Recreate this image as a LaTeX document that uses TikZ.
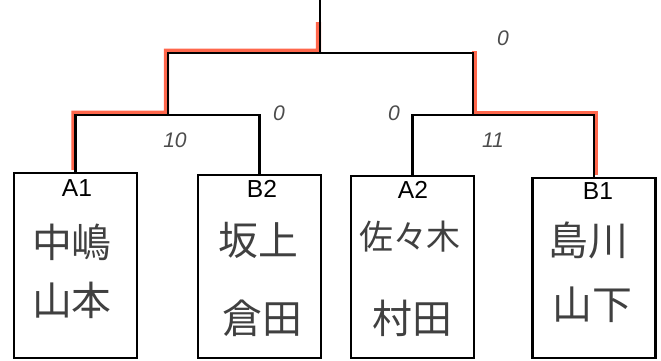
\documentclass[tikz,border=0pt]{standalone}
\usepackage{fontspec}
\setmainfont{Liberation Sans}
\newfontfamily\jpfont{Noto Sans CJK JP}
\usetikzlibrary{calc}
\tikzset{
	entry/.style={draw, line width=2.2pt, minimum width=3.69cm, minimum height=5.5cm, inner sep=0pt},
	seed/.style={font=\fontsize{21}{23}\selectfont},
	player/.style={font=\jpfont\fontsize{34}{38}\selectfont, color=black!75},
	score/.style={font=\itshape\fontsize{18}{20}\selectfont, color=black!70},
	link/.style={line width=2.2pt},
	win/.style={color=red!70!orange, line width=4.5pt, opacity=0.7}
}

\begin{document}
\begin{tikzpicture}[x=0.03cm,y=-0.03cm]
	\useasboundingbox (0,0) rectangle (661,361);
	% entries
	\node[entry, minimum height=5.55cm] (A1) at (75.5,265.5) {};
	\node[entry] (B2) at (259.5,266.5) {};
	\node[entry, minimum height=5.46cm] (A2) at (412.5,267) {};
	\node[entry, minimum height=5.4cm] (B1) at (594,268) {};
	\node[seed] (A1s) at (77,188) {A1};
	\node[seed] (B2s) at (262,189) {B2};
	\node[seed] (A2s) at (413,190) {A2};
	\node[seed] (B1s) at (598,191) {B1};
	\node[player] (A1a) at (72,242) {中嶋};
	\node[player] (A1b) at (72,300) {山本};
	\node[player] (B2a) at (258,240) {坂上};
	\node[player] (B2b) at (262,318) {倉田};
	\node[player, font=\jpfont\fontsize{29}{32}\selectfont] (A2a) at (410,237) {佐々木};
	\node[player] (A2b) at (412,318) {村田};
	\node[player] (B1a) at (588,240) {島川};
	\node[player] (B1b) at (592,305) {山下};
	% bracket
	\coordinate (m1) at (168,115);
	\coordinate (m2) at (473,115);
	\coordinate (fin) at (320,53);
	\coordinate (root) at (320,0);
	\draw[win, transform canvas={xshift=-1.2pt,yshift=1.5pt}] (A1.north) |- (m1) |- (fin) -- ($(fin)!0.55!(root)$);
	\draw[win, transform canvas={xshift=1.2pt,yshift=1.5pt}] (m2 |- fin) -- (m2) -| (B1.north);
	\draw[link] (A1.north) |- (m1) -| (B2.north);
	\draw[link] (A2.north) |- (m2) -| (B1.north);
	\draw[link] (m1) |- (fin) -| (m2);
	\draw[link] (fin) -- (root);
	% scores
	\node[score] (s1) at (175,140) {10};
	\node[score] (s2) at (279,113) {0};
	\node[score] (s3) at (394,113) {0};
	\node[score] (s4) at (493,140) {11};
	\node[score] (s5) at (503,38) {0};
\end{tikzpicture}
\end{document}
